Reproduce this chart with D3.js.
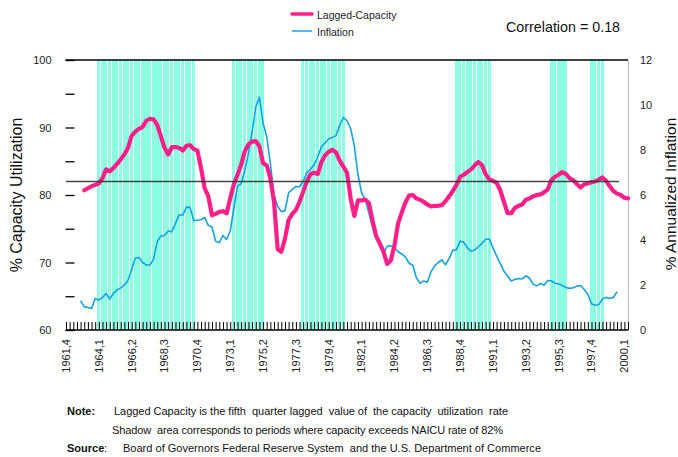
<!DOCTYPE html>
<html>
<head>
<meta charset="utf-8">
<script src="https://cdn.jsdelivr.net/npm/d3@7"></script>
<style>
  body { margin: 0; background: #fff; }
  svg { display: block; font-family: "Liberation Sans", Arial, sans-serif; }
</style>
</head>
<body>
<svg id="chart" width="678" height="457"></svg>
<script>
// ---------------- DATA ----------------
// Quarterly categories from 1961 Q4 to 2000 Q2
const startYear = 1961, startQuarter = 4, nQuarters = 155;
const quarters = [];
for (let i = 0; i < nQuarters; i++) {
  const q = (startQuarter - 1) + i;
  quarters.push((startYear + Math.floor(q / 4)) + "," + (q % 4 + 1));
}

const tickLabels = ["1961,4","1964,1","1966,2","1968,3","1970,4","1973,1","1975,2","1977,3","1979,4",
  "1982,1","1984,2","1986,3","1988,4","1991,1","1993,2","1995,3","1997,4","2000,1"];

// Lagged capacity utilization (%), starting 1963,1
const capacityStart = "1963,1";
const capacity = [
  80.7,81.0,81.3,81.5,81.7,82.5,83.8,83.5,84.0,84.6,85.3,86.0,87.0,88.8,89.4,89.8,90.1,91.0,91.3,91.2,
  90.4,88.7,87.0,86.0,87.1,87.1,87.0,86.6,87.3,87.4,86.8,86.6,84.0,81.0,79.8,77.0,77.2,77.5,77.6,77.3,
  79.5,81.6,83.0,84.5,86.5,87.5,87.9,88.0,87.2,84.7,84.4,82.5,79.0,72.0,71.6,73.5,76.3,77.2,77.8,79.0,
  80.5,82.0,83.1,83.3,83.1,84.9,85.9,86.4,86.7,86.3,85.1,84.2,83.3,79.5,76.9,79.2,79.2,79.3,78.8,76.2,
  73.9,72.8,71.6,69.8,70.3,72.5,75.8,77.4,78.9,79.9,80.0,79.5,79.3,79.0,78.6,78.3,78.4,78.4,78.5,79.1,
  79.8,80.6,81.5,82.7,83.0,83.4,83.8,84.4,84.9,84.4,83.1,82.3,82.1,81.8,80.7,79.0,77.3,77.3,78.1,78.4,
  78.6,79.3,79.5,79.8,80.0,80.1,80.4,80.8,82.2,82.7,83.0,83.4,83.1,82.5,82.2,81.6,81.1,81.6,81.7,81.9,
  82.0,82.3,82.6,82.1,81.3,80.6,80.2,80.0,79.6,79.5
];

// Annualized inflation (%), starting 1962,4
const inflationStart = "1962,4";
const inflation = [
  1.30,1.04,1.00,0.96,1.40,1.33,1.45,1.62,1.38,1.63,1.78,1.87,2.00,2.20,2.70,3.20,3.22,3.00,2.89,2.89,
  3.15,3.93,4.18,4.20,4.40,4.36,4.74,5.12,5.10,5.46,5.45,4.86,4.88,4.90,5.00,4.65,4.58,3.95,3.88,4.20,
  4.02,4.40,5.40,6.40,6.50,7.10,7.85,8.80,9.90,10.35,9.20,8.60,7.40,6.00,5.50,5.26,5.30,6.10,6.25,6.38,
  6.37,6.60,7.00,7.15,7.35,7.70,8.15,8.32,8.50,8.56,8.64,9.10,9.45,9.30,8.95,8.20,6.90,6.10,5.80,5.20,
  4.55,4.10,3.80,3.42,3.72,3.74,3.66,3.48,3.38,3.25,2.97,2.89,2.33,2.07,2.18,2.12,2.58,2.85,3.00,3.12,
  2.90,3.18,3.55,3.56,3.95,3.90,3.65,3.50,3.56,3.70,3.85,4.03,4.04,3.65,3.29,2.95,2.62,2.40,2.18,2.25,
  2.29,2.27,2.41,2.31,2.04,1.96,2.07,2.00,2.20,2.19,2.08,2.05,1.98,1.89,1.85,1.88,1.95,1.98,1.80,1.58,
  1.17,1.10,1.13,1.38,1.45,1.40,1.45,1.70
];

// Periods where capacity exceeds NAICU rate (shaded), first and last quarter
const shadeStart = ["1964,1","1973,2","1978,1","1988,3","1995,1","1997,4"];
const shadeEnd   = ["1970,3","1975,2","1980,4","1990,4","1996,1","1998,3"];

const naicuRate = 82;
const leftTicks = [60,65,70,75,80,85,90,95,100];
const rightTicks = [0,2,4,6,8,10,12];

// ---------------- DRAW ----------------
const svg = d3.select("#chart");
const L = 65.5, R = 628, T = 60, B = 330;

const x = d3.scaleLinear().domain([0, nQuarters - 1]).range([66, R]);
const step = x(1) - x(0);
const yL = d3.scaleLinear().domain([60, 100]).range([B, T]);
const yR = d3.scaleLinear().domain([0, 12]).range([B, T]);
const qi = q => quarters.indexOf(q);

// shaded bands
const bands = svg.append("g").attr("shape-rendering", "crispEdges");
shadeStart.forEach((s, k) => {
  const a = qi(s), b = qi(shadeEnd[k]);
  for (let i = a; i <= b; i++) {
    bands.append("rect")
      .attr("x", x(i) - step / 2)
      .attr("y", T)
      .attr("width", step - 0.55)
      .attr("height", B - T)
      .attr("fill", "#8cffe2");
  }
});

// left axis
const axL = svg.append("g").attr("transform", `translate(${L},0)`)
  .call(d3.axisLeft(yL).tickValues(leftTicks).tickSizeInner(-9).tickSizeOuter(0).tickPadding(14)
    .tickFormat(d => d % 10 === 0 ? d : ""));
axL.select(".domain").remove();
axL.selectAll(".tick line").attr("stroke", "#000").attr("stroke-width", 1.3);
axL.selectAll("text").attr("font-size", 11).attr("fill", "#222")
  .attr("font-family", "Liberation Sans, Arial, sans-serif");

// right axis
const axR = svg.append("g").attr("transform", `translate(${R},0)`)
  .call(d3.axisRight(yR).tickValues(rightTicks).tickSize(0).tickPadding(12));
axR.select(".domain").attr("stroke", "#bdbdbd").attr("stroke-width", 1);
axR.selectAll("text").attr("font-size", 11).attr("fill", "#222")
  .attr("font-family", "Liberation Sans, Arial, sans-serif");

// bottom axis with inward ticks for every quarter
const axB = svg.append("g").attr("transform", `translate(0,${B})`)
  .call(d3.axisBottom(x).tickValues(d3.range(nQuarters)).tickSizeInner(-8).tickSizeOuter(0).tickFormat(""));
axB.select(".domain").attr("stroke", "#000").attr("stroke-width", 1.3).attr("d", `M${L},0H${R}`);
axB.selectAll(".tick line").attr("stroke", "#000").attr("stroke-width", 1);

// x tick labels rotated
svg.append("g").selectAll("text").data(tickLabels).join("text")
  .attr("transform", d => `translate(${x(qi(d))},339) rotate(-90)`)
  .attr("dy", "0.35em")
  .attr("text-anchor", "end")
  .attr("font-size", 11)
  .attr("fill", "#222")
  .text(d => d);

// top border line
svg.append("line").attr("x1", L).attr("x2", R).attr("y1", T).attr("y2", T)
  .attr("stroke", "#000").attr("stroke-width", 1.5);

// series lines
const capStartIdx = qi(capacityStart);
const infStartIdx = qi(inflationStart);
const capLine = d3.line().x((d, i) => x(capStartIdx + i)).y(d => yL(d));
const infLine = d3.line().x((d, i) => x(infStartIdx + i)).y(d => yR(d));

svg.append("path").datum(inflation).attr("d", infLine)
  .attr("fill", "none").attr("stroke", "#14a2e2").attr("stroke-width", 1.6).attr("stroke-linejoin", "round");
svg.append("path").datum(capacity).attr("d", capLine)
  .attr("fill", "none").attr("stroke", "#ff1f88").attr("stroke-width", 4.2).attr("stroke-linejoin", "round")
  .attr("stroke-linecap", "round");

// NAICU reference line
svg.append("line").attr("x1", 66).attr("x2", 619).attr("y1", yL(naicuRate)).attr("y2", yL(naicuRate))
  .attr("stroke", "#333").attr("stroke-width", 1.3).attr("opacity", 0.9);

// axis titles
svg.append("text").attr("transform", `translate(22,${(T + B) / 2}) rotate(-90)`)
  .attr("text-anchor", "middle").attr("font-size", 16).attr("fill", "#111")
  .text("% Capacity Utilization");
svg.append("text").attr("transform", `translate(676,${(T + B) / 2 - 1}) rotate(-90)`)
  .attr("text-anchor", "middle").attr("font-size", 15.5).attr("fill", "#111")
  .text("% Annualized Inflation");

// legend
const lg = svg.append("g");
lg.append("line").attr("x1", 292).attr("x2", 312).attr("y1", 14).attr("y2", 14)
  .attr("stroke", "#ff1f88").attr("stroke-width", 3.5).attr("stroke-linecap", "round");
lg.append("text").attr("x", 317).attr("y", 18.5).attr("font-size", 10.5).attr("fill", "#222").text("Lagged-Capacity");
lg.append("line").attr("x1", 292).attr("x2", 312).attr("y1", 31).attr("y2", 31)
  .attr("stroke", "#14a2e2").attr("stroke-width", 1.5);
lg.append("text").attr("x", 317).attr("y", 35.5).attr("font-size", 10.5).attr("fill", "#222").text("Inflation");

svg.append("text").attr("x", 506).attr("y", 31.5).attr("font-size", 14.3).attr("fill", "#111")
  .text("Correlation = 0.18");

// notes
const notes = svg.append("g").attr("font-size", 11).attr("fill", "#111");
notes.append("text").attr("x", 67).attr("y", 415).attr("font-weight", "bold").text("Note:");
notes.append("text").attr("x", 114).attr("y", 415).attr("xml:space", "preserve")
  .attr("textLength", 394).attr("lengthAdjust", "spacing")
  .text("Lagged Capacity is the fifth  quarter lagged  value of  the capacity  utilization  rate");
notes.append("text").attr("x", 112).attr("y", 434).attr("xml:space", "preserve")
  .attr("textLength", 391).attr("lengthAdjust", "spacing")
  .text("Shadow  area corresponds to periods where capacity exceeds NAICU rate of 82%");
notes.append("text").attr("x", 67).attr("y", 452).attr("font-weight", "bold").text("Source");
notes.append("text").attr("x", 104).attr("y", 452).text(":");
notes.append("text").attr("x", 123).attr("y", 452).attr("xml:space", "preserve")
  .attr("textLength", 418).attr("lengthAdjust", "spacing")
  .text("Board of Governors Federal Reserve System  and the U.S. Department of Commerce");
</script>
</body>
</html>
